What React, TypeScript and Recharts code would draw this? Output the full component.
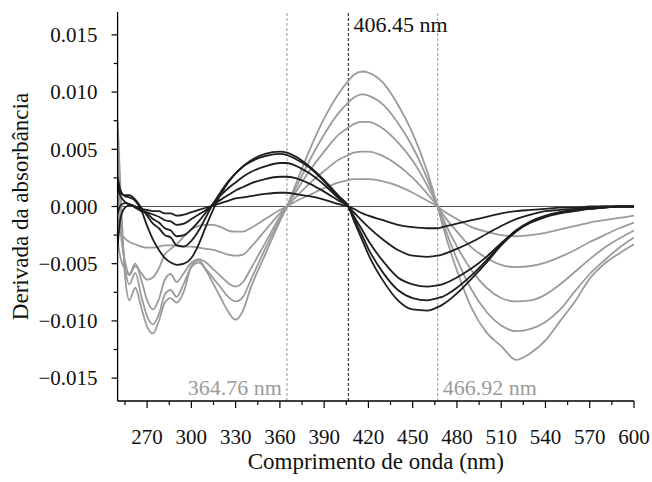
import { Line, LineChart, ReferenceLine, XAxis, YAxis } from "recharts"

// wavelength grid (nm), denser where the spectra wiggle
const wavelengths = [
  250, 252, 255, 258, 262, 266, 270, 274, 278, 282,
  286, 290, 295, 300, 305, 310, 315, 320, 325, 330,
  335, 340, 350, 360, 364.76, 370, 380, 390, 400, 406.45,
  410, 416, 420, 430, 440, 450, 460, 466.92, 470, 480,
  490, 500, 510, 520, 530, 540, 550, 560, 570, 580,
  590, 600,
]

// gray spectra (largest amplitude first)
const gray1 = [
  0.0075, 0.0015, -0.006, -0.0082, -0.0071, -0.0088, -0.0105, -0.0111, -0.01, -0.0084,
  -0.008, -0.0084, -0.0074, -0.0052, -0.0047, -0.0056, -0.0068, -0.008, -0.0092, -0.0099,
  -0.0091, -0.0072, -0.0042, -0.0013, 0, 0.0017, 0.0049, 0.0077, 0.0099, 0.011,
  0.0115, 0.0118, 0.0117, 0.0108, 0.0089, 0.0064, 0.003, 0, -0.0015, -0.0056,
  -0.0089, -0.011, -0.0122, -0.0134, -0.0128, -0.0117, -0.01, -0.0083, -0.0063, -0.005,
  -0.0041, -0.0033,
]
const gray2 = [
  0.0045, -0.0005, -0.0052, -0.0068, -0.0058, -0.0078, -0.0096, -0.0103, -0.0094, -0.0077,
  -0.0073, -0.0079, -0.0067, -0.0053, -0.0049, -0.0055, -0.0063, -0.0071, -0.0079, -0.0083,
  -0.0079, -0.0065, -0.0037, -0.0011, 0, 0.0014, 0.004, 0.0063, 0.0082, 0.0091,
  0.0095, 0.0098, 0.0097, 0.0089, 0.0073, 0.0052, 0.0024, 0, -0.0012, -0.0046,
  -0.0073, -0.0092, -0.0104, -0.0109, -0.0107, -0.0101, -0.009, -0.0074, -0.0059, -0.0047,
  -0.0036, -0.0027,
]
const gray3 = [
  0.0012, -0.0022, -0.0048, -0.0059, -0.005, -0.0064, -0.0082, -0.009, -0.0081, -0.0064,
  -0.0059, -0.0066, -0.0058, -0.0049, -0.0046, -0.0049, -0.0055, -0.0061, -0.0067, -0.007,
  -0.0066, -0.0055, -0.0032, -0.0009, 0, 0.0011, 0.0031, 0.0048, 0.0063, 0.0069,
  0.0072, 0.0074, 0.0074, 0.0068, 0.0056, 0.004, 0.0018, 0, -0.0009, -0.0035,
  -0.0056, -0.0071, -0.008, -0.0083, -0.0082, -0.0077, -0.0068, -0.0057, -0.0046, -0.0036,
  -0.0028, -0.0021,
]
const gray4 = [
  -0.0008, -0.0022, -0.0028, -0.0031, -0.0033, -0.0035, -0.0036, -0.0036, -0.0035, -0.0034,
  -0.0034, -0.0034, -0.0035, -0.0035, -0.0036, -0.0037, -0.0038, -0.004, -0.0042, -0.0043,
  -0.0042, -0.0036, -0.0021, -0.0006, 0, 0.0007, 0.002, 0.0031, 0.0041, 0.0045,
  0.0047, 0.0048, 0.0048, 0.0044, 0.0036, 0.0025, 0.0011, 0, -0.0006, -0.0022,
  -0.0036, -0.0045, -0.0051, -0.0053, -0.0052, -0.0049, -0.0044, -0.0038, -0.0031, -0.0025,
  -0.0019, -0.0014,
]
const gray5 = [
  -0.003, -0.0045, -0.0055, -0.006, -0.0052, -0.0058, -0.0064, -0.0062, -0.0054, -0.0042,
  -0.0037, -0.0033, -0.0026, -0.002, -0.0017, -0.0016, -0.0016, -0.0018, -0.0021, -0.0022,
  -0.0022, -0.0019, -0.0011, -0.0003, 0, 0.0004, 0.001, 0.0016, 0.0021, 0.0023,
  0.0024, 0.0024, 0.0024, 0.0022, 0.0018, 0.0012, 0.0005, 0, -0.0003, -0.0011,
  -0.0018, -0.0022, -0.0025, -0.0026, -0.0025, -0.0023, -0.002, -0.0017, -0.0014, -0.0012,
  -0.001, -0.0008,
]

// black spectra (largest amplitude first)
const black1 = [
  0.0026, 0.0014, 0.0009, 0.0008, 0.0005, -0.0003, -0.0017, -0.0029, -0.0038, -0.0045,
  -0.0049, -0.0051, -0.005, -0.0045, -0.0033, -0.0017, -0.0002, 0.0011, 0.0021, 0.0029,
  0.0035, 0.004, 0.0046, 0.0048, 0.0047, 0.0044, 0.0035, 0.0023, 0.0009, 0,
  -0.0012, -0.003, -0.0042, -0.0065, -0.0082, -0.009, -0.0091, -0.0088, -0.0086, -0.0076,
  -0.0063, -0.0049, -0.0034, -0.0022, -0.0014, -0.0009, -0.0006, -0.0004, -0.0002, -0.0001,
  0, 0,
]
const black2 = [
  0.0021, 0.0012, 0.001, 0.001, 0.0006, -0.0001, -0.0008, -0.0015, -0.0019, -0.0025,
  -0.0027, -0.0034, -0.0035, -0.003, -0.0021, -0.0009, 0.0003, 0.0013, 0.0022, 0.0029,
  0.0035, 0.0039, 0.0044, 0.0046, 0.0045, 0.0042, 0.0034, 0.0022, 0.0008, 0,
  -0.001, -0.0026, -0.0037, -0.0058, -0.0073, -0.008, -0.0082, -0.008, -0.0079, -0.0071,
  -0.006, -0.0047, -0.0033, -0.0021, -0.0014, -0.0009, -0.0005, -0.0003, -0.0002, -0.0001,
  0, 0,
]
const black3 = [
  0.0015, 0.0009, 0.0004, 0.0002, -0.0001, -0.0004, -0.0006, -0.0011, -0.0014, -0.0019,
  -0.0021, -0.0026, -0.0025, -0.002, -0.0013, -0.0005, 0.0003, 0.001, 0.0016, 0.0021,
  0.0026, 0.003, 0.0035, 0.0038, 0.0038, 0.0036, 0.0029, 0.0019, 0.0007, 0,
  -0.0008, -0.0021, -0.003, -0.0048, -0.0062, -0.0068, -0.007, -0.0069, -0.0068, -0.0062,
  -0.0054, -0.0044, -0.0032, -0.0021, -0.0013, -0.0008, -0.0005, -0.0003, -0.0002, -0.0001,
  0, 0,
]
const black4 = [
  -0.0006, 0.0001, 0.0003, 0.0002, 0, -0.0003, -0.0005, -0.0007, -0.0009, -0.0012,
  -0.0013, -0.0016, -0.0015, -0.0011, -0.0007, -0.0003, 0.0002, 0.0006, 0.001, 0.0014,
  0.0017, 0.002, 0.0024, 0.0026, 0.0026, 0.0025, 0.002, 0.0013, 0.0005, 0,
  -0.0005, -0.0013, -0.0018, -0.0029, -0.0038, -0.0043, -0.0044, -0.0043, -0.0042, -0.0037,
  -0.0031, -0.0024, -0.0017, -0.0011, -0.0007, -0.0004, -0.0003, -0.0002, -0.0001, 0,
  0, 0,
]
const black5 = [
  -0.0035, -0.001, -0.0001, 0.0001, 0, -0.0002, -0.0003, -0.0004, -0.0004, -0.0006,
  -0.0006, -0.0008, -0.0007, -0.0005, -0.0003, -0.0001, 0.0001, 0.0003, 0.0005, 0.0007,
  0.0008, 0.0009, 0.0011, 0.0012, 0.0012, 0.0011, 0.0009, 0.0006, 0.0002, 0,
  -0.0002, -0.0006, -0.0008, -0.0012, -0.0016, -0.0018, -0.0019, -0.0019, -0.0018, -0.0015,
  -0.0012, -0.0009, -0.0006, -0.0004, -0.0003, -0.0002, -0.0001, -0.0001, 0, 0,
  0, 0,
]

// axis ticks: majors every 30 nm / 0.005, minors in between
const xTicks = [
  255, 270, 285, 300, 315, 330, 345, 360, 375, 390, 405, 420,
  435, 450, 465, 480, 495, 510, 525, 540, 555, 570, 585, 600,
]
const yTicks = [
  -0.015, -0.0125, -0.01, -0.0075, -0.005, -0.0025, 0,
  0.0025, 0.005, 0.0075, 0.01, 0.0125, 0.015,
]

const grays = [gray1, gray2, gray3, gray4, gray5]
const blacks = [black1, black2, black3, black4, black5]

const data = wavelengths.map((wl, i) => {
  const row: Record<string, number> = { wl }
  grays.forEach((s, k) => (row[`g${k}`] = s[i]))
  blacks.forEach((s, k) => (row[`b${k}`] = s[i]))
  return row
})

const font = "'Liberation Serif', 'Times New Roman', serif"
const GRAY = "#9b9b9b"
const BLACK = "#1e1e1e"

function XTick({ x, y, payload }: any) {
  const v = payload.value
  const major = (v - 270) % 30 === 0
  return (
    <g>
      <line x1={x} x2={x} y1={y} y2={y + (major ? 7 : 4)} stroke="#000" strokeWidth={1.2} />
      {major && (
        <text x={x} y={y + 43} textAnchor="middle" fontSize={21} fontFamily={font} fill="#111">
          {v}
        </text>
      )}
    </g>
  )
}

function YTick({ x, y, payload }: any) {
  const v = payload.value
  const major = Math.abs(Math.round(v * 200) - v * 200) < 1e-6
  const label = (v < 0 ? "\u2212" : "") + Math.abs(v).toFixed(3)
  return (
    <g>
      <line x1={x - (major ? 6 : 4)} x2={x} y1={y} y2={y} stroke="#000" strokeWidth={1.2} />
      {major && (
        <text x={x - 20} y={y} dy="0.35em" textAnchor="end" fontSize={21} fontFamily={font} fill="#111">
          {label}
        </text>
      )}
    </g>
  )
}

const markerLabel = (text: string, color: string, where: "top" | "bottomLeft" | "bottomRight") =>
  (props: any) => {
    const vb = props.viewBox || {}
    const top = Math.min(vb.y, vb.y + vb.height)
    const bottom = Math.max(vb.y, vb.y + vb.height)
    const x = vb.x
    const tx = where === "bottomLeft" ? x - 5 : x + 5
    const ty = where === "top" ? top + 20 : bottom - 6
    return (
      <text
        x={tx}
        y={ty}
        textAnchor={where === "bottomLeft" ? "end" : "start"}
        fontSize={22}
        fontFamily={font}
        fill={color}
      >
        {text}
      </text>
    )
  }

export default function App() {
  return (
    <div style={{ position: "absolute", left: 0, top: 0, background: "#fff" }}>
      <LineChart
        width={652}
        height={482}
        data={data}
        margin={{ top: 12, right: 18, bottom: 0, left: 0 }}
        style={{ fontFamily: font }}
      >
        <XAxis
          dataKey="wl"
          type="number"
          domain={[250, 600]}
          allowDataOverflow
          ticks={xTicks}
          interval={0}
          tickLine={false}
          tickSize={0}
          tickMargin={0}
          tick={(p: any) => <XTick {...p} />}
          height={81}
          axisLine={{ stroke: "#000", strokeWidth: 1.3 }}
          label={(p: any) => {
            const vb = p.viewBox
            return (
              <text
                x={vb.x + vb.width / 2}
                y={vb.y + 68}
                textAnchor="middle"
                fontSize={23}
                fontFamily={font}
                fill="#111"
              >
                Comprimento de onda (nm)
              </text>
            )
          }}
        />
        <YAxis
          type="number"
          domain={[-0.017, 0.017]}
          allowDataOverflow
          ticks={yTicks}
          interval={0}
          tickLine={false}
          tickSize={0}
          tickMargin={0}
          tick={(p: any) => <YTick {...p} />}
          width={117.6}
          axisLine={{ stroke: "#000", strokeWidth: 1.3 }}
          label={(p: any) => {
            const vb = p.viewBox
            const cy = vb.y + vb.height / 2
            return (
              <text
                x={20}
                y={cy}
                dy="0.35em"
                transform={`rotate(-90 20 ${cy})`}
                textAnchor="middle"
                fontSize={23}
                fontFamily={font}
                fill="#111"
              >
                Derivada da absorbância
              </text>
            )
          }}
        />
        <ReferenceLine y={0} stroke="#555" strokeWidth={1.2} />
        <ReferenceLine
          x={364.76}
          stroke="#a8a8a8"
          strokeDasharray="3 2"
          strokeWidth={1.2}
          label={markerLabel("364.76 nm", GRAY, "bottomLeft")}
        />
        <ReferenceLine
          x={406.45}
          stroke="#444"
          strokeDasharray="3 2"
          strokeWidth={1.3}
          label={markerLabel("406.45 nm", "#111", "top")}
        />
        <ReferenceLine
          x={466.92}
          stroke="#a8a8a8"
          strokeDasharray="3 2"
          strokeWidth={1.2}
          label={markerLabel("466.92 nm", GRAY, "bottomRight")}
        />
        {grays.map((_, k) => (
          <Line
            key={`g${k}`}
            dataKey={`g${k}`}
            type="monotone"
            stroke={GRAY}
            strokeWidth={1.8}
            dot={false}
            isAnimationActive={false}
          />
        ))}
        {blacks.map((_, k) => (
          <Line
            key={`b${k}`}
            dataKey={`b${k}`}
            type="monotone"
            stroke={BLACK}
            strokeWidth={1.8}
            dot={false}
            isAnimationActive={false}
          />
        ))}
      </LineChart>
    </div>
  )
}
